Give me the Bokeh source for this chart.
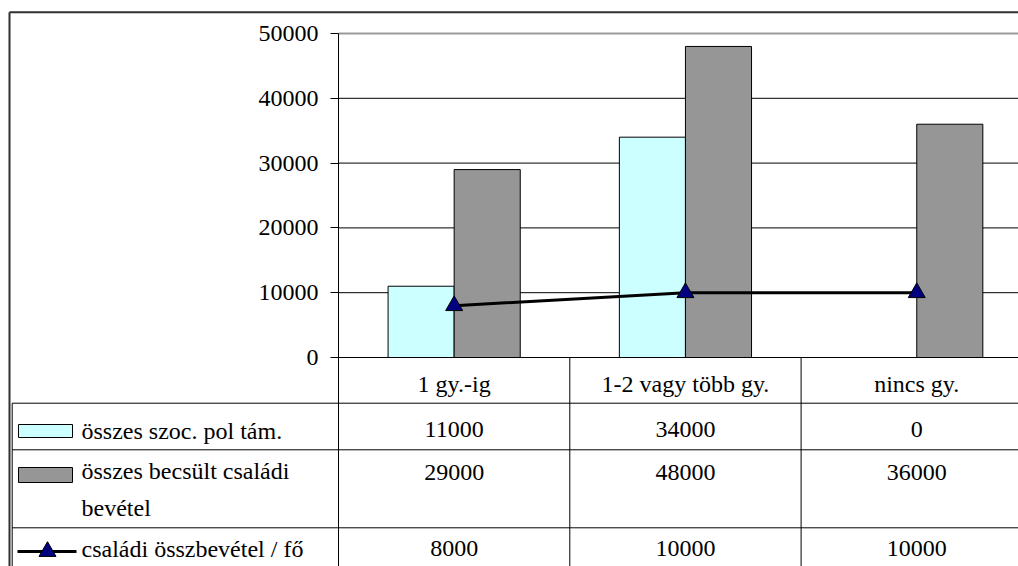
from bokeh.plotting import figure
from bokeh.models import Range1d, FixedTicker, LinearAxis, ColumnDataSource
from bokeh.transform import dodge
from bokeh.core.properties import value
from bokeh.embed import file_html
from bokeh.resources import INLINE

# ---------------- data ----------------
categories = ["1 gy.-ig", "1-2 vagy több gy.", "nincs gy."]
szoc_pol_tam = [11000, 34000, 0]
becsult_bevetel = [29000, 48000, 36000]
osszbevetel_fo = [8000, 10000, 10000]
series_names = ["összes szoc. pol tám.", "összes becsült családi bevétel", "családi összbevétel / fő"]
y_ticks = [0, 10000, 20000, 30000, 40000, 50000]
grid_ticks = [10000, 20000, 30000, 40000]

# ---------------- geometry (page pixels) ----------------
W, H = 1018, 566
AX_X = 338          # y axis position
Y0_PX, Y50_PX = 357, 33   # pixel rows of 0 and 50000
CAT_PX = 231.3      # width of one category
FONT = "Liberation Serif"
FS = "24px"
CYAN, GRAY, NAVY = "#CCFFFF", "#969696", "#000080"
BAR_W = 1 / 3.5

k = 50000 / (Y0_PX - Y50_PX)
x_range = Range1d(-AX_X / CAT_PX, (W - AX_X) / CAT_PX)
y_range = Range1d(-(H - Y0_PX) * k, 50000 + Y50_PX * k)

p = figure(width=W, height=H, output_backend="svg", toolbar_location=None,
           x_range=x_range, y_range=y_range,
           x_axis_location=None, y_axis_location=None,
           min_border=0, min_border_left=0, min_border_right=0,
           min_border_top=0, min_border_bottom=0)
p.outline_line_color = None
p.background_fill_color = "white"
p.border_fill_color = "white"
p.xgrid.visible = False
p.ygrid.visible = False

# pixel ranges used only for the data-table layout
p.extra_x_ranges = {"px": Range1d(0, W)}
p.extra_y_ranges = {"py": Range1d(0, H)}
def sy(y):
    return H - y

# y axis placed at the left edge of the plot area
ax = LinearAxis(fixed_location=0, ticker=FixedTicker(ticks=y_ticks), bounds=(0, 50000))
ax.axis_line_color = "black"
ax.major_tick_line_color = "black"
ax.major_tick_out = 8
ax.major_tick_in = 0
ax.minor_tick_line_color = None
ax.major_label_standoff = 12
ax.major_label_text_font = FONT
ax.major_label_text_font_size = FS
ax.major_label_text_color = "black"
p.add_layout(ax, "left")

x_right = x_range.end + 0.2
# gridlines
p.segment(x0=[0] * len(grid_ticks), y0=grid_ticks, x1=[x_right] * len(grid_ticks),
          y1=grid_ticks, line_color="black", line_width=1)
p.segment(x0=[0], y0=[50000], x1=[x_right], y1=[50000], line_color="#9a9a9a", line_width=2)

# ---------------- bars & line ----------------
xc = [i + 0.5 for i in range(len(categories))]
src = ColumnDataSource(dict(x=xc, a=szoc_pol_tam, b=becsult_bevetel, c=osszbevetel_fo))
p.vbar(x=dodge("x", -BAR_W / 2), top="a", width=BAR_W, source=src,
       fill_color=CYAN, line_color="black", line_width=1)
p.vbar(x=dodge("x", BAR_W / 2), top="b", width=BAR_W, source=src,
       fill_color=GRAY, line_color="black", line_width=1)
p.line(x="x", y="c", source=src, line_color="black", line_width=3)
p.scatter(x="x", y="c", source=src, marker="triangle", size=17,
          fill_color=NAVY, line_color="black", line_width=1)

# ---------------- data table ----------------
edges = list(range(len(categories) + 1))
# category column boundaries, from the value axis' zero down to the bottom
p.segment(x0=edges, y0=[0] * len(edges), x1=edges, y1=[y_range.start] * len(edges),
          line_color="black", line_width=1)
p.segment(x0=[0], y0=[0], x1=[x_right], y1=[0], line_color="black", line_width=1)

ROWS = [402.7, 449.3, 527.3]
p.segment(x0=[11.7] * 3, y0=[sy(r) for r in ROWS], x1=[W + 5] * 3, y1=[sy(r) for r in ROWS],
          line_color="black", line_width=1, x_range_name="px", y_range_name="py")
p.segment(x0=[11.7], y0=[sy(402.7)], x1=[11.7], y1=[sy(H + 5)],
          line_color="black", line_width=1, x_range_name="px", y_range_name="py")
# outer chart border
p.segment(x0=[9, 9], y0=[sy(11.7), sy(11.7)], x1=[W + 5, 9], y1=[sy(11.7), sy(H + 5)],
          line_color="#303030", line_width=2, x_range_name="px", y_range_name="py")

def texts(xs, ys, t, align="center", xr="default"):
    p.text(x=xs, y=[sy(v) for v in ys], text=t, x_range_name=xr, y_range_name="py",
           text_align=align, text_baseline="middle", text_font=value(FONT),
           text_font_size=value(FS), text_color="black")

texts(xc, [383] * 3, categories)
texts(xc, [429] * 3, [str(v) for v in szoc_pol_tam])
texts(xc, [472] * 3, [str(v) for v in becsult_bevetel])
texts(xc, [548] * 3, [str(v) for v in osszbevetel_fo])

name2 = series_names[1].rsplit(" ", 1)
texts([81, 81, 81, 81], [430, 470, 507, 548],
      [series_names[0], name2[0], name2[1], series_names[2]], align="left", xr="px")

# legend keys
p.quad(left=[18, 18], right=[72, 72], top=[sy(424), sy(467)], bottom=[sy(437), sy(482)],
       fill_color=[CYAN, GRAY], line_color="black", line_width=1,
       x_range_name="px", y_range_name="py")
p.segment(x0=[17], y0=[sy(551)], x1=[76], y1=[sy(551)], line_color="black", line_width=3,
          x_range_name="px", y_range_name="py")
p.scatter(x=[47], y=[sy(551)], marker="triangle", size=17, fill_color=NAVY,
          line_color="black", line_width=1, x_range_name="px", y_range_name="py")

open("out.html", "w").write(file_html(p, INLINE))
